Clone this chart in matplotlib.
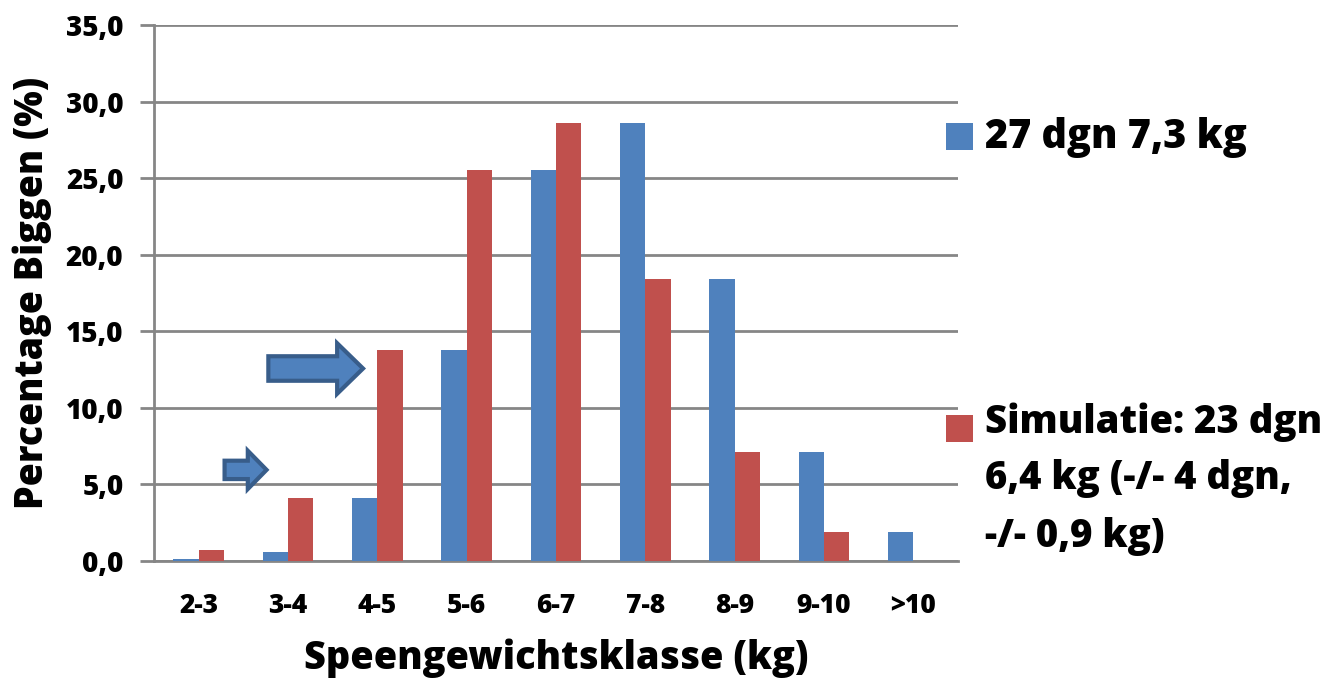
import matplotlib
matplotlib.use("Agg")
import matplotlib.pyplot as plt
import numpy as np
from matplotlib.patches import Polygon, Rectangle

categories = ["2-3", "3-4", "4-5", "5-6", "6-7", "7-8", "8-9", "9-10", ">10"]
blue_values = [0.1, 0.6, 4.1, 13.8, 25.5, 28.6, 18.4, 7.1, 1.9]
red_values = [0.7, 4.1, 13.8, 25.5, 28.6, 18.4, 7.1, 1.9, 0.0]
blue_label = "27 dgn 7,3 kg"
red_label = "Simulatie: 23 dgn\n6,4 kg (-/- 4 dgn,\n-/- 0,9 kg)"
yticks = [0, 5, 10, 15, 20, 25, 30, 35]

BLUE = "#4F81BD"
RED = "#C0504D"
GRID = "#868686"
ARROW_EDGE = "#385D8A"
W = 800

plt.rcParams['font.family'] = ['Open Sans', 'DejaVu Sans']
plt.rcParams['font.weight'] = W

fig = plt.figure(figsize=(13.31, 6.81), dpi=100)
ax = fig.add_axes([154/1331, 1-561/681, (958-154)/1331, (561-25)/681])

x = np.arange(len(categories))
w = 0.285
ax.bar(x - w/2, blue_values, width=w, color=BLUE, zorder=3)
ax.bar(x + w/2, red_values, width=w, color=RED, zorder=3)

ax.set_xlim(-0.5, len(categories) - 0.5)
ax.set_ylim(0, 35)
ax.set_yticks(yticks)
ax.set_yticklabels([f"{v:.1f}".replace(".", ",") for v in yticks], fontsize=20, fontweight=W)
ax.set_xticks(x)
ax.set_xticklabels(categories, fontsize=19, fontweight=W)
ax.tick_params(axis='x', length=0, pad=23)
ax.tick_params(axis='y', length=10, width=2, color=GRID, pad=12)
ax.yaxis.grid(True, color=GRID, linewidth=2, zorder=0)
ax.set_axisbelow(True)
for s in ['top', 'right']:
    ax.spines[s].set_visible(False)
for s in ['left', 'bottom']:
    ax.spines[s].set_color(GRID)
    ax.spines[s].set_linewidth(2)

ax.set_ylabel("Percentage Biggen (%)", fontsize=27, fontweight=W, labelpad=10)
ax.set_xlabel("Speengewichtsklasse (kg)", fontsize=27.3, fontweight=W, labelpad=14)

# annotation arrows (category units, value units)
def arrow(x0, x1, xh, yc, shaft_half, head_half):
    pts = [(x0, yc - shaft_half), (xh, yc - shaft_half), (xh, yc - head_half),
           (x1, yc), (xh, yc + head_half), (xh, yc + shaft_half), (x0, yc + shaft_half)]
    ax.add_patch(Polygon(pts, closed=True, facecolor=BLUE, edgecolor=ARROW_EDGE,
                         linewidth=3, zorder=4, joinstyle='miter'))

arrow(0.29, 0.76, 0.55, 5.95, 0.6, 1.25)
arrow(0.78, 1.84, 1.55, 12.57, 0.8, 1.65)

# legend (manual)
fig.patches.append(Rectangle((946/1331, 1-150/681), 27/1331, 27/681,
                             transform=fig.transFigure, facecolor=BLUE, edgecolor='none'))
fig.patches.append(Rectangle((946/1331, 1-442/681), 27/1331, 27/681,
                             transform=fig.transFigure, facecolor=RED, edgecolor='none'))
fig.text(985/1331, 1-137/681, blue_label, fontsize=28.5, fontweight=W, va='center', ha='left')
fig.text(985/1331, 1-402/681, red_label, fontsize=27.5, fontweight=W, va='top', ha='left',
         linespacing=1.6)

fig.savefig("out.png", dpi=100)
